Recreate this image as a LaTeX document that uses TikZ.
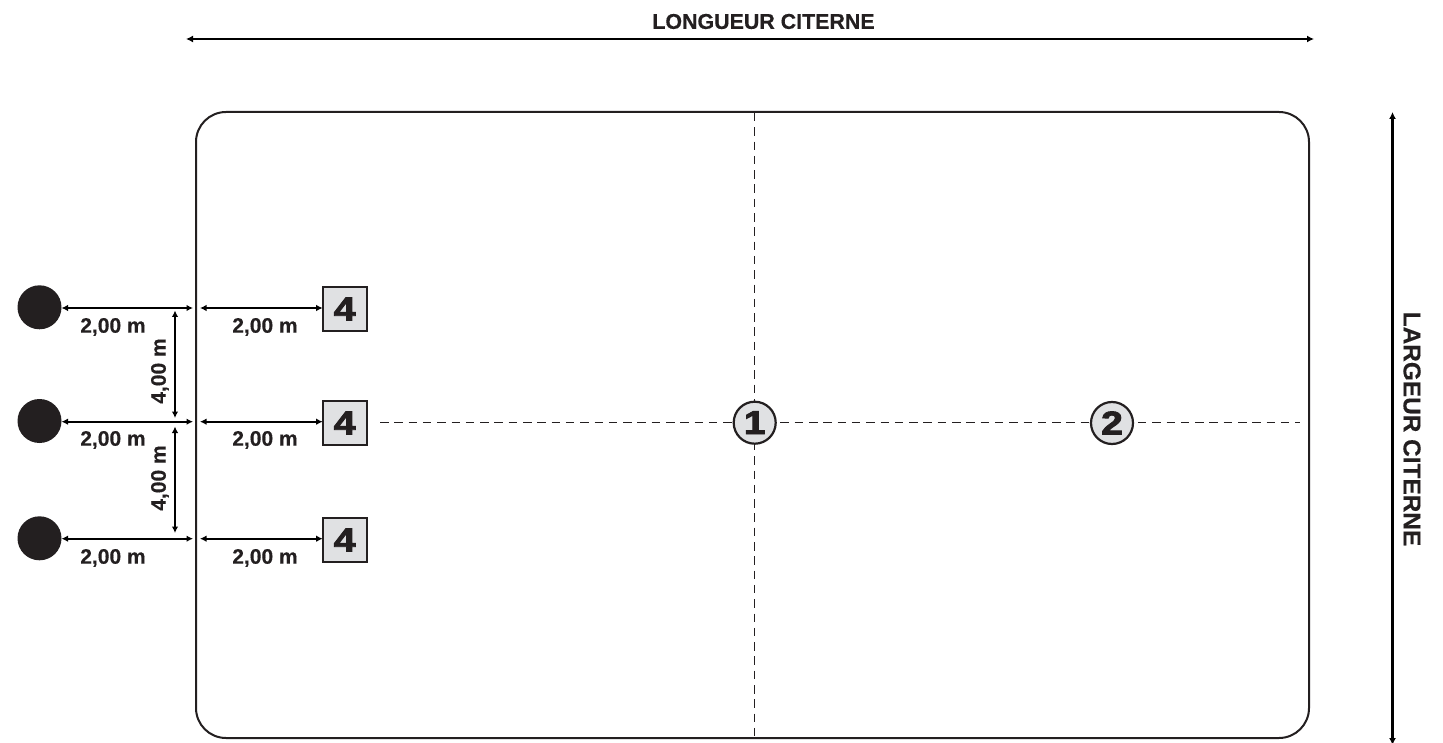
\documentclass[tikz,border=0pt]{standalone}
\usepackage{fontspec}
\setmainfont{Liberation Sans}
\newfontfamily\digitfont[FakeBold=2.6]{Liberation Sans Bold}
\newfontfamily\labfont[FakeBold=0.35]{Liberation Sans Bold}
\usetikzlibrary{arrows.meta}
\definecolor{ink}{HTML}{231F20}
\definecolor{pale}{HTML}{E0E1E3}
\tikzset{x=1pt,y=-1pt,
  dim/.style={line width=2.4pt,draw=black,{Latex[length=7pt,width=7pt]}-{Latex[length=7pt,width=7pt]}},
  dimthin/.style={line width=2pt,draw=black,{Latex[length=6.5pt,width=6.5pt]}-{Latex[length=6.5pt,width=6.5pt]}},
  guide/.style={line width=1.4pt,draw=ink,dash pattern=on 8.5pt off 5.8pt},
  tank/.style={line width=2pt,draw=ink,rounded corners=30pt},
  post/.style={circle,fill=ink,draw=none,minimum size=44pt,inner sep=0pt,outer sep=0pt},
  sq/.style={rectangle,draw=ink,fill=pale,line width=2pt,minimum size=44pt,inner sep=0pt,outer sep=0pt},
  disc/.style={circle,draw=ink,fill=pale,line width=2.2pt,minimum size=42pt,inner sep=0pt,outer sep=0pt},
  num/.style={font=\fontsize{33}{33}\digitfont,text=ink,xscale=1.18,transform shape,inner sep=0pt},
  lab/.style={font=\fontsize{21}{22}\labfont,text=ink,inner sep=0pt},
  captxt/.style={font=\fontsize{21.4}{22}\labfont,text=ink,inner sep=0pt},
}
\begin{document}
\begin{tikzpicture}
\useasboundingbox (0,0) rectangle (1443,743);
\fill[white] (0,0) rectangle (1443,743);
% tank outline
\draw[tank] (196,112) rectangle (1309,738);
% anchor points
\coordinate (topL) at (186,39);
\coordinate (topR) at (1314,39);
\coordinate (rT) at (1392.5,112);
\coordinate (rB) at (1392.5,745);
\coordinate (vT) at (754.7,113);
\coordinate (vB) at (754.7,737);
\coordinate (hL) at (380,422.7);
\coordinate (hR) at (1300,422.7);
\coordinate (wA1) at (193,308);
\coordinate (wB1) at (200,308);
\coordinate (wA2) at (193,421.7);
\coordinate (wB2) at (200,421.7);
\coordinate (wA3) at (193,538.7);
\coordinate (wB3) at (200,538.7);
\coordinate (u1) at (175,310.5);
\coordinate (u2) at (175,418);
\coordinate (u3) at (175,426.5);
\coordinate (u4) at (175,533);
% guides
\draw[guide] (vT) -- (vB);
\draw[guide] (hL) -- (hR);
% posts
\node[post] (p1) at (39.5,307.3) {};
\node[post] (p2) at (39.5,421) {};
\node[post] (p3) at (39.5,538.3) {};
% squares
\node[sq] (s1) at (344.7,309) {};
\node[sq] (s2) at (344.7,423) {};
\node[sq] (s3) at (344.7,540) {};
\node[num] at (s1) {4};
\node[num] at (s2) {4};
\node[num] at (s3) {4};
% discs
\node[disc] (c1) at (754.7,422.7) {};
\node[disc] (c2) at (1112,423) {};
\node[num] at (c1) {1};
\node[num] at (c2) {2};
% dimensions
\draw[dim] (topL) -- (topR);
\draw[dim] (rT) -- (rB);
\draw[dimthin] (p1.east |- wA1) -- (wA1);
\draw[dimthin] (p2.east |- wA2) -- (wA2);
\draw[dimthin] (p3.east |- wA3) -- (wA3);
\draw[dimthin] (wB1) -- (s1.west |- wB1);
\draw[dimthin] (wB2) -- (s2.west |- wB2);
\draw[dimthin] (wB3) -- (s3.west |- wB3);
\draw[dimthin] (u1) -- (u2);
\draw[dimthin] (u3) -- (u4);
% labels
\node[captxt] (tl) at (763.5,21.5) {LONGUEUR CITERNE};
\node[font=\fontsize{24.4}{25}\labfont,text=ink,inner sep=0pt,rotate=-90] (rl) at (1412,429) {LARGEUR CITERNE};
\node[lab] (a1) at (113,327) {2,00 m};
\node[lab] (a2) at (113,440) {2,00 m};
\node[lab] (a3) at (113,558) {2,00 m};
\node[lab] (b1) at (265,327) {2,00 m};
\node[lab] (b2) at (265,440) {2,00 m};
\node[lab] (b3) at (265,558) {2,00 m};
\node[lab,rotate=90] (d1) at (160,371) {4,00 m};
\node[lab,rotate=90] (d2) at (160,478) {4,00 m};
\end{tikzpicture}
\end{document}
